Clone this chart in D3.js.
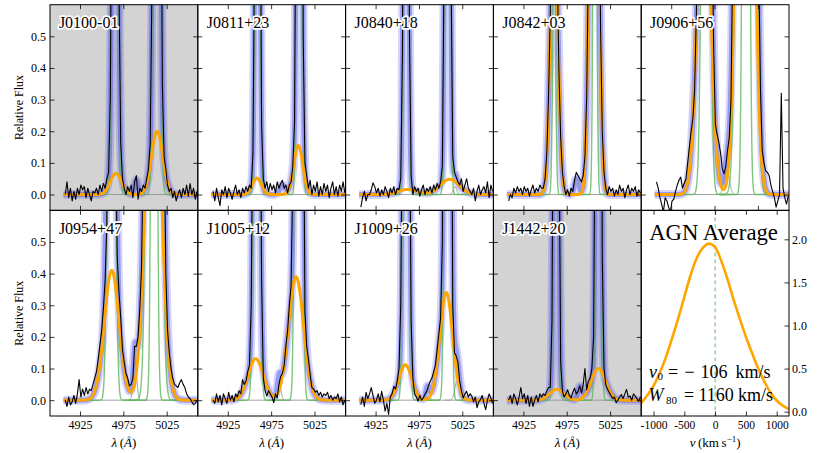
<!DOCTYPE html>
<html><head><meta charset="utf-8">
<script src="https://cdn.jsdelivr.net/npm/d3@7/dist/d3.min.js"></script>
<style>
html,body{margin:0;padding:0;background:#fff;}
svg{display:block;}
text{font-family:"Liberation Serif","Times New Roman",Times,serif;}
</style></head>
<body>
<svg id="chart" width="830" height="453"></svg>
<script>
// ---------------- data ----------------
const panelNames = ["J0100-01","J0811+23","J0840+18","J0842+03","J0906+56","J0954+47","J1005+12","J1009+26","J1442+20"];
const shadedPanels = [1,0,0,0,0,0,0,0,1];

// observed spectra, sampled every 2 Å from 4908 Å
const specStart = 4908, specStep = 2;
const fluxJ0100 = [0.00,0.04,-0.01,0.02,-0.02,0.01,-0.015,0.02,0.0,0.03,
 0.015,0.025,-0.01,0.02,0.0,-0.02,0.01,0.005,0.02,0.0,
 0.03,0.01,0.035,0.02,0.05,0.07,0.31,1.18,2.56,3.0,
 1.88,0.65,0.16,0.05,0.02,0.0,0.025,0.01,0.03,-0.01,
 0.04,0.06,-0.015,0.02,0.01,0.03,0.02,0.05,0.08,0.16,
 0.66,2.4,5.2,6.1,3.83,1.35,0.35,0.12,0.08,0.03,
 0.01,0.02,-0.01,0.01,-0.02,0.0,0.015,-0.01,0.02,0.0,
 0.03,-0.005,0.035,0.0,0.02,-0.015,0.01];
const fluxJ0811 = [0.01,-0.02,0.02,-0.01,-0.035,0.015,0.0,0.025,-0.01,0.02,
 0.005,-0.015,0.01,0.03,0.0,0.015,-0.01,0.02,0.005,0.025,
 0.01,0.03,0.02,0.13,0.82,2.48,2.87,1.25,0.22,0.05,
 0.02,0.04,0.01,0.035,0.015,0.03,0.005,0.04,0.02,0.035,
 0.045,0.02,0.03,0.005,0.03,0.04,0.09,0.23,1.22,3.93,
 5.0,2.41,0.5,0.1,0.06,0.02,0.045,0.0,0.03,0.01,
 0.04,-0.005,0.025,0.0,0.035,0.01,0.03,-0.01,0.02,0.04,
 0.0,0.025,-0.005,0.03,0.01,0.04,0.005];
const fluxJ0840 = [-0.04,-0.01,0.01,-0.02,0.0,0.0,0.015,0.037,0.025,0.005,
 0.02,-0.005,0.015,0.0,0.025,0.01,-0.01,0.02,0.005,0.025,
 0.0,0.02,0.015,0.05,0.45,2.0,3.5,2.25,0.53,0.06,
 0.0,0.025,0.01,0.02,-0.005,0.015,0.03,0.0,0.02,0.01,
 0.025,0.005,0.03,0.015,0.035,0.02,0.04,0.09,0.72,3.07,
 5.05,3.08,0.73,0.12,0.07,0.055,0.04,0.03,0.05,0.01,
 0.03,0.05,0.02,0.01,0.0,0.02,-0.02,0.01,0.03,0.0,
 0.015,0.025,0.005,0.04,-0.01,0.03,0.01];
const fluxJ0842 = [-0.02,0.0,-0.01,0.02,0.005,0.025,0.01,0.02,0.0,0.025,
 0.01,0.02,-0.005,0.015,0.03,0.005,0.02,0.01,0.03,0.02,
 0.02,0.05,0.13,0.31,0.57,1.05,1.71,1.39,0.73,0.39,
 0.18,0.07,0.025,0.0,0.015,-0.005,0.02,0.01,0.045,0.07,
 0.06,0.05,0.04,0.06,0.12,0.31,0.73,1.38,2.29,4.0,
 4.66,2.5,1.14,0.53,0.2,0.07,0.02,0.0,0.025,0.01,
 0.02,-0.005,0.015,0.0,0.03,0.01,0.02,-0.01,0.015,0.03,
 0.0,0.02,0.01,0.025,-0.005,0.015,0.005];
const fluxJ0906 = [0.04,0.02,-0.01,-0.03,-0.055,-0.01,-0.02,-0.04,-0.055,-0.02,
 -0.015,0.01,0.03,0.045,0.055,0.02,0.035,0.05,0.1,0.15,
 0.2,0.24,0.33,0.57,0.84,1.32,2.13,3.2,4.0,3.9,
 2.94,1.76,0.9,0.46,0.22,0.19,0.165,0.13,0.08,0.066,
 0.09,0.14,0.18,0.3,0.75,1.52,2.9,5.1,8.0,11,
 15,17,17,15,12,8.8,5.4,3.0,1.54,0.71,
 0.33,0.14,0.1,0.075,0.07,0.06,0.03,0.01,-0.01,-0.04,
 -0.02,0.0,0.32,0.02,-0.01,-0.03,-0.005];
const fluxJ0954 = [0.0,-0.02,0.01,-0.015,-0.005,0.015,-0.01,0.02,0.065,0.01,
 0.035,0.015,0.04,0.02,0.035,0.03,0.05,0.07,0.09,0.13,
 0.175,0.22,0.29,0.38,0.56,1.6,3.8,4.3,2.6,0.85,
 0.45,0.34,0.26,0.16,0.12,0.085,0.07,0.045,0.05,0.07,
 0.17,0.17,0.2,0.29,0.42,0.8,2.0,3.7,6.2,9.7,
 14,17,15.9,11.7,7.6,4.7,2.0,0.9,0.4,0.22,
 0.15,0.1,0.07,0.05,0.045,0.04,0.055,0.065,0.05,0.04,
 0.02,0.01,0.005,-0.005,-0.014,-0.01,0.0];
const fluxJ1005 = [0.0,-0.01,0.02,-0.005,0.015,-0.015,0.02,0.005,-0.01,0.025,
 0.0,0.015,-0.005,0.02,0.01,0.03,0.02,0.065,0.05,0.06,
 0.09,0.11,0.3,1.0,2.9,4.1,3.2,1.3,0.38,0.07,
 0.03,0.013,0.03,0.02,0.01,-0.008,0.02,0.007,0.05,0.075,
 0.085,0.11,0.17,0.22,0.3,0.36,0.7,2.0,4.8,8.0,
 7.3,3.9,1.2,0.28,0.17,0.13,0.08,0.04,0.035,0.025,
 0.03,0.015,0.025,0.01,0.02,0.015,0.025,0.005,0.015,0.0,
 0.01,0.005,0.02,-0.005,0.01,-0.015,0.0];
const fluxJ1009 = [-0.014,0.01,-0.02,0.025,0.005,0.02,0.04,0.015,-0.01,0.0,
 0.02,-0.005,0.028,0.0,-0.035,-0.01,-0.045,0.01,0.02,0.044,
 0.035,0.06,0.1,0.3,1.0,3.3,4.1,3.0,1.0,0.25,
 0.07,0.02,0.01,-0.003,0.015,0.0,0.007,0.02,0.028,0.045,
 0.06,0.07,0.09,0.11,0.16,0.21,0.26,0.5,1.7,4.0,
 6.3,4.2,1.6,0.3,0.15,0.14,0.12,0.06,0.03,0.007,
 0.02,0.028,0.01,0.02,0.013,-0.005,0.01,-0.024,-0.005,0.002,
 0.015,-0.01,-0.03,0.0,0.02,0.007,-0.01];
const fluxJ1442 = [0.0,0.015,-0.01,0.02,0.005,-0.015,0.01,0.04,0.005,0.02,
 -0.01,0.015,-0.02,0.01,-0.02,0.0,0.015,-0.005,0.02,0.01,
 0.02,0.015,0.03,0.04,0.04,0.25,1.43,3.4,2.7,0.9,
 0.12,0.028,0.01,0.02,0.033,0.015,0.007,0.025,0.038,0.02,
 0.028,0.045,0.023,0.05,0.1,0.033,0.06,0.07,0.1,0.2,
 1.06,3.5,4.5,2.3,0.45,0.1,0.05,0.035,0.025,0.015,
 0.005,0.01,-0.008,0.0,0.01,0.018,0.005,0.02,0.034,0.01,
 0.013,0.0,0.02,0.013,0.005,-0.003,0.01];
const spectra = [fluxJ0100,fluxJ0811,fluxJ0840,fluxJ0842,fluxJ0906,fluxJ0954,fluxJ1005,fluxJ1009,fluxJ1442];

// fitted Gaussian components: [centre Å, peak, sigma Å]
const broadLines = [
 [[4966.5,0.067,6.5],[5014,0.2,6.5]],
 [[4958.5,0.052,5.2],[5006.3,0.155,5.2]],
 [[4962,0.016,11],[5010.4,0.048,11]],
 [[4960.4,0.95,4.2],[5006.6,2.5,4.2]],
 [[4962.7,1.13,7.2],[5010.4,3.4,7.2]],
 [[4961.6,0.41,8.5],[5009.6,1.23,8.5]],
 [[4957.2,0.131,8.7],[5003.7,0.39,8.7]],
 [[4959.3,0.112,7.4],[5006.5,0.34,7.4]],
 [[4963.5,0.034,8.2],[5011.5,0.1,8.2]]
];
const narrowLines = [
 [[4965.5,3,2.5],[5013.5,6,2.5]],
 [[4959.3,3,2],[5007.5,5,2]],
 [[4960.1,3.5,2],[5008,5,2]],
 [[4960.5,0.8,1.6],[5007.5,2.4,1.6]],
 [[4965,3,3.5],[5011.3,14,5.5],[5011.3,6,2.5]],
 [[4961.3,4,3],[5010.5,10,4.6],[5010.5,4,2.3]],
 [[4958.3,4,2.5],[5006.8,8,2.5]],
 [[4960.2,4,2.3],[5008.3,6,2.3]],
 [[4962.7,3.5,2],[5011.5,4.5,2]]
];
const extraLines = [
 [[4990,0.045,2]],
 [[4988,0.03,3]],
 [[5016.5,0.025,2]],
 [[4986.5,0.05,2.5]],
 [[4989,0.08,3]],
 [[4988.5,0.12,2]],
 [[4984.4,0.05,2]],
 [[4985,0.04,2],[5018.9,0.06,2.5]],
 [[4990.4,0.04,2.5]]
];

// AGN average profile
const agnVelocity = [-1200,-1100,-1000,-900,-800,-700,-600,-500,-400,-300,-200,-100,0,100,200,300,400,500,600,700,800,900,1000,1100,1200];
const agnProfile  = [0.10,0.19,0.30,0.45,0.63,0.85,1.08,1.33,1.58,1.78,1.90,1.95,1.91,1.75,1.54,1.30,1.08,0.87,0.68,0.50,0.35,0.22,0.13,0.07,0.03];
const agnV0 = ["\u2212", "106"], agnW80 = "1160";

// ticks
const fluxTicks = [0,0.1,0.2,0.3,0.4,0.5];
const waveTicks = [4925,4975,5025];
const velTicks = [-1000,-500,0,500,1000];
const agnTicks = [0,0.5,1,1.5,2];

// ---------------- layout ----------------
const LEFT = 50, PW = 147.8, TOP = 4.7, PH = 205.65, TK = 4.5;
const xWave = d3.scaleLinear().domain([4890.4, 5060.9]).range([0, PW]);
const yFlux = d3.scaleLinear().domain([-0.05, 0.6]).range([PH, 0]);
const xVel = d3.scaleLinear().domain([-1200, 1200]).range([0, PW]);
const yAgn = d3.scaleLinear().domain([-0.05, 2.336]).range([PH, 0]);

const svg = d3.select('#chart');
const defs = svg.append('defs');
const layerPlot = svg.append('g');
const layerAxes = svg.append('g');
const layerText = svg.append('g');

function gauss(l, comps){ let s = 0; for (const [c,a,w] of comps) s += a*Math.exp(-(l-c)*(l-c)/(2*w*w)); return s; }
const grid = d3.range(4906, 5061.01, 0.2);
const line = d3.line().x(d => xWave(d[0])).y(d => yFlux(d[1]));

function styleAxis(g, fs){
  g.select('.domain').remove();
  g.attr('font-family','"Liberation Serif","Times New Roman",serif').attr('font-size', fs);
  g.selectAll('line').attr('stroke','#000').attr('stroke-width',0.8);
  g.selectAll('text').attr('fill','#000');
}

panelNames.forEach((name, i) => {
  const col = i % 5, row = Math.floor(i / 5);
  const gx = LEFT + col*PW, gy = TOP + row*PH;
  defs.append('clipPath').attr('id','clip'+i).append('rect').attr('width',PW).attr('height',PH);
  const g = layerPlot.append('g').attr('transform',`translate(${gx},${gy})`);
  if (shadedPanels[i]) g.append('rect').attr('width',PW).attr('height',PH).attr('fill','#d3d3d3');
  const p = g.append('g').attr('clip-path',`url(#clip${i})`);
  const comps = broadLines[i].concat(narrowLines[i], extraLines[i]);
  const total = grid.map(l => [l, gauss(l, comps)]);
  // total model: translucent blue band
  p.append('path').datum(total).attr('d',line).attr('fill','none')
    .attr('stroke','#4444ee').attr('stroke-opacity',0.22).attr('stroke-width',9).attr('stroke-linejoin','round');
  p.append('path').datum(total).attr('d',line).attr('fill','none')
    .attr('stroke','#4444ee').attr('stroke-opacity',0.42).attr('stroke-width',5).attr('stroke-linejoin','round');
  // zero line
  p.append('path').datum([[4906,0],[5061,0]]).attr('d',line).attr('fill','none')
    .attr('stroke','#8c8c8c').attr('stroke-width',0.8);
  // extra components (thin gray)
  extraLines[i].forEach(c => {
    const pts = grid.filter(l => Math.abs(l - c[0]) < 14).map(l => [l, gauss(l,[c])]);
    p.append('path').datum(pts).attr('d',line).attr('fill','none').attr('stroke','#8c8c8c').attr('stroke-width',0.8);
  });
  // narrow components (green)
  narrowLines[i].forEach(c => {
    const pts = grid.filter(l => Math.abs(l - c[0]) < 30).map(l => [l, gauss(l,[c])]);
    p.append('path').datum(pts).attr('d',line).attr('fill','none')
      .attr('stroke','#5cb85c').attr('stroke-opacity',0.8).attr('stroke-width',1.4);
  });
  // broad components (orange)
  const broad = grid.map(l => [l, gauss(l, broadLines[i])]);
  p.append('path').datum(broad).attr('d',line).attr('fill','none')
    .attr('stroke','#ffa500').attr('stroke-width',3).attr('stroke-linejoin','round');
  // observed spectrum
  const spec = spectra[i].map((v,k) => [specStart + k*specStep, v]);
  p.append('path').datum(spec).attr('d',line).attr('fill','none')
    .attr('stroke','#000').attr('stroke-width',1.1).attr('stroke-linejoin','round');

  // axes
  const a = layerAxes.append('g').attr('transform',`translate(${gx},${gy})`);
  a.append('rect').attr('width',PW).attr('height',PH).attr('fill','none').attr('stroke','#000').attr('stroke-width',1);
  const ax1 = a.append('g').call(d3.axisLeft(yFlux).tickValues(fluxTicks).tickSize(-TK).tickPadding(4)
      .tickFormat(col === 0 ? d3.format('.1f') : () => ''));
  styleAxis(ax1, 12);
  const ax2 = a.append('g').attr('transform',`translate(${PW},0)`).call(d3.axisRight(yFlux).tickValues(fluxTicks).tickSize(-TK).tickFormat(() => ''));
  styleAxis(ax2, 12);
  const ax3 = a.append('g').call(d3.axisTop(xWave).tickValues(waveTicks).tickSize(-TK).tickFormat(() => ''));
  styleAxis(ax3, 12);
  const ax4 = a.append('g').attr('transform',`translate(0,${PH})`).call(d3.axisBottom(xWave).tickValues(waveTicks).tickSize(-TK).tickPadding(4.5)
      .tickFormat(row === 1 ? d3.format('d') : () => ''));
  styleAxis(ax4, 12);

  // panel label
  layerText.append('text').attr('x', gx + 8.9).attr('y', gy + 23.6).attr('font-size',16)
    .attr('fill','#000').attr('stroke','#fff').attr('stroke-width',3.5).attr('stroke-linejoin','round')
    .attr('paint-order','stroke').text(name);

  if (row === 1) {
    const t = layerText.append('text').attr('x', gx + PW/2).attr('y', 447).attr('text-anchor','middle').attr('font-size',13);
    t.append('tspan').attr('font-style','italic').text('\u03bb');
    t.append('tspan').text('\u2009(');
    t.append('tspan').attr('font-style','italic').text('\u00c5');
    t.append('tspan').text(')');
  }
});

// ---------------- AGN average panel ----------------
{
  const gx = LEFT + 4*PW, gy = TOP + PH;
  defs.append('clipPath').attr('id','clipA').append('rect').attr('width',PW).attr('height',PH);
  const g = layerPlot.append('g').attr('transform',`translate(${gx},${gy})`);
  const p = g.append('g').attr('clip-path','url(#clipA)');
  p.append('line').attr('x1',xVel(0)).attr('x2',xVel(0)).attr('y1',0).attr('y2',PH)
    .attr('stroke','#66bb66').attr('stroke-width',1).attr('stroke-dasharray','4,3');
  const agnLine = d3.line().curve(d3.curveMonotoneX).x((d,k) => xVel(agnVelocity[k])).y(d => yAgn(d));
  p.append('path').datum(agnProfile).attr('d',agnLine).attr('fill','none')
    .attr('stroke','#ffa500').attr('stroke-width',2.6);

  const a = layerAxes.append('g').attr('transform',`translate(${gx},${gy})`);
  a.append('rect').attr('width',PW).attr('height',PH).attr('fill','none').attr('stroke','#000').attr('stroke-width',1);
  const r = a.append('g').attr('transform',`translate(${PW},0)`).call(d3.axisRight(yAgn).tickValues(agnTicks).tickSize(-TK).tickPadding(3)
      .tickFormat(d3.format('.1f')));
  styleAxis(r, 12);
  r.selectAll('text').attr('x', 3);
  const b = a.append('g').attr('transform',`translate(0,${PH})`).call(d3.axisBottom(xVel).tickValues(velTicks).tickSize(-TK).tickPadding(4.5)
      .tickFormat(d => String(d)));
  styleAxis(b, 11.5);
  const tp = a.append('g').call(d3.axisTop(xVel).tickValues(velTicks).tickSize(-TK).tickFormat(() => ''));
  styleAxis(tp, 12);

  layerText.append('text').attr('x', gx + 8).attr('y', gy + 29.5).attr('font-size',22.7)
    .attr('fill','#000').attr('stroke','#fff').attr('stroke-width',3).attr('stroke-linejoin','round')
    .attr('paint-order','stroke').text('AGN Average');

  const t1 = layerText.append('text').attr('y', 377.5).attr('font-size',18);
  t1.append('tspan').attr('x',649).attr('font-style','italic').text('v');
  t1.append('tspan').attr('x',657.5).attr('dy',2.5).attr('font-size',11).text('0');
  t1.append('tspan').attr('x',668).attr('dy',-2.5).text('=');
  t1.append('tspan').attr('x',684.5).text(agnV0[0]);
  t1.append('tspan').attr('x',700.5).text(agnV0[1]);
  t1.append('tspan').attr('x',735.5).text('km/s');

  const t2 = layerText.append('text').attr('y', 401).attr('font-size',18);
  t2.append('tspan').attr('x',648.5).attr('font-style','italic').text('W');
  t2.append('tspan').attr('x',666).attr('dy',2.5).attr('font-size',11).text('80');
  t2.append('tspan').attr('x',684).attr('dy',-2.5).text('=');
  t2.append('tspan').attr('x',698.5).text(agnW80);
  t2.append('tspan').attr('x',738).text('km/s');

  const t = layerText.append('text').attr('x', gx + PW/2).attr('y', 446.5).attr('text-anchor','middle').attr('font-size',13);
  t.append('tspan').attr('font-style','italic').text('v');
  t.append('tspan').text('\u2009(km\u2009s');
  t.append('tspan').attr('dy',-5).attr('font-size',9).text('\u22121');
  t.append('tspan').attr('dy',5).text(')');
}

// y-axis titles
[TOP + PH/2, TOP + PH + PH/2].forEach(cy => {
  layerText.append('text').attr('transform',`translate(23,${cy}) rotate(-90)`).attr('text-anchor','middle')
    .attr('font-size',12).text('Relative Flux');
});
</script>
</body></html>
